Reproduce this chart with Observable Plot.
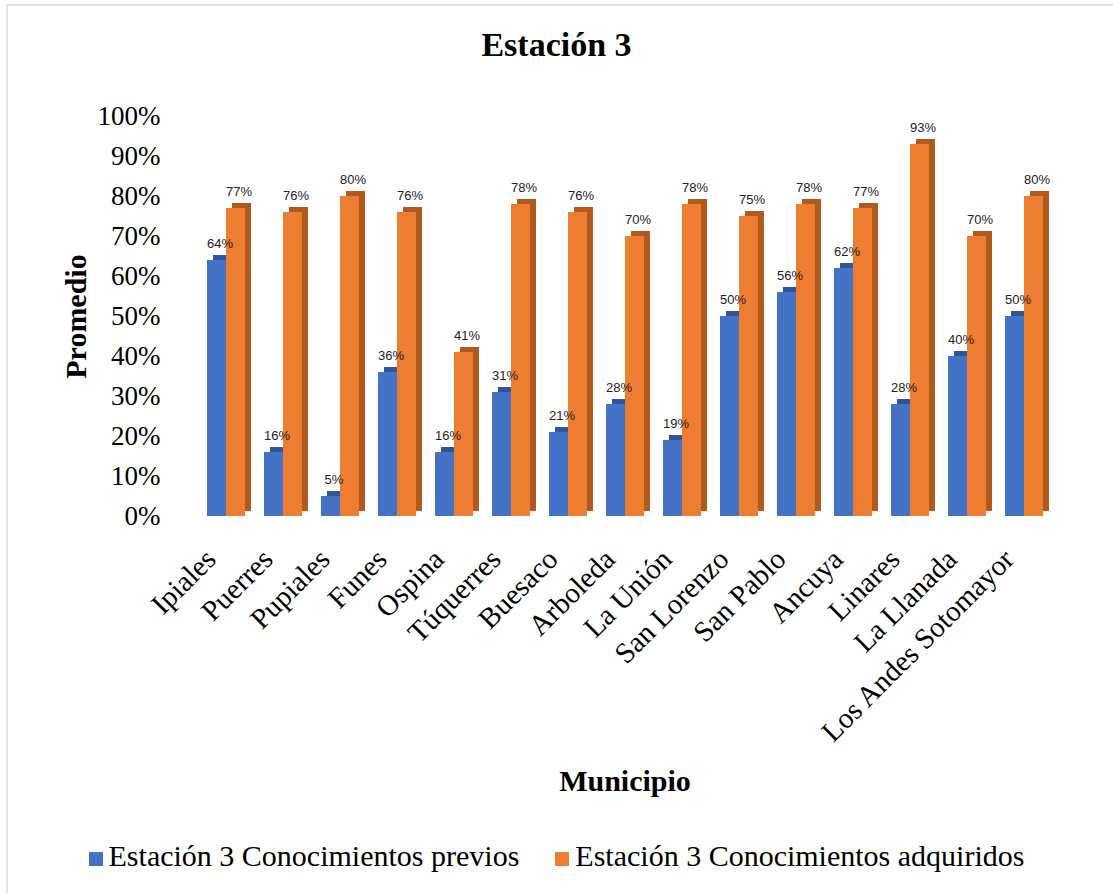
<!DOCTYPE html>
<html>
<head>
<meta charset="utf-8">
<script src="https://cdn.jsdelivr.net/npm/d3@7"></script>
<script src="https://cdn.jsdelivr.net/npm/@observablehq/plot@0.6"></script>
<style>
  html, body { margin: 0; padding: 0; background: #fff; }
  #page { position: relative; width: 1113px; height: 893px; overflow: hidden; font-family: "Liberation Serif", "Times New Roman", serif; color: #000; }
  #frame { position: absolute; left: 6px; top: 4px; width: 1200px; height: 1000px; border-left: 2px solid #e2e2e2; border-top: 2px solid #e2e2e2; }
  #title { position: absolute; left: 0; top: 0; width: 1113px; height: 80px; text-align: center; font-weight: bold; font-size: 34px; line-height: 90px; }
  #chart { position: absolute; left: 0; top: 80px; }
  #legend { position: absolute; left: 0; top: 838px; width: 1113px; display: flex; justify-content: center; gap: 36px; font-size: 30px; line-height: 36px; }
  #legend .item { display: flex; align-items: center; }
  #legend .sw { width: 14px; height: 14px; margin-right: 6px; margin-top: 6px; }
  #chart g[aria-label="y-axis tick label"] { font-size: 27px; }
  #chart g[aria-label="fx-axis tick label"] { font-size: 29px; }
  #chart g[aria-label="y-axis label"], #chart g[aria-label="fx-axis label"] { font-size: 30px; font-weight: bold; }
</style>
</head>
<body>
<div id="page">
  <div id="frame"></div>
  <div id="title">Estación 3</div>
  <div id="chart"></div>
  <div id="legend"></div>
</div>
<script>
// Municipalities and the two averages for each one (percent)
const municipios = ["Ipiales", "Puerres", "Pupiales", "Funes", "Ospina", "Túquerres", "Buesaco", "Arboleda", "La Unión", "San Lorenzo", "San Pablo", "Ancuya", "Linares", "La Llanada", "Los Andes Sotomayor"];
const previos = [64, 16, 5, 36, 16, 31, 21, 28, 19, 50, 56, 62, 28, 40, 50];
const adquiridos = [77, 76, 80, 76, 41, 78, 76, 70, 78, 75, 78, 77, 93, 70, 80];
const series = ["Estación 3 Conocimientos previos", "Estación 3 Conocimientos adquiridos"];
const yTicks = [0, 10, 20, 30, 40, 50, 60, 70, 80, 90, 100];

const colores = ["#4472C4", "#ED7D31"];
const sombras = ["#2F5597", "#B05A1E"];

const rows = municipios.flatMap((m, i) => [
  {municipio: m, serie: series[0], valor: previos[i]},
  {municipio: m, serie: series[1], valor: adquiridos[i]}
]);

// darker copy of each bar, offset up and right, gives the bars their depth
const depth = series.map((s, i) =>
  Plot.barY(rows.filter(d => d.serie === s), {fx: "municipio", x: "serie", y: "valor", fill: sombras[i], dx: 6, dy: -5})
);

const chart = Plot.plot({
  width: 1113,
  height: 730,
  marginTop: 36,
  marginBottom: 294,
  marginLeft: 186,
  marginRight: 50,
  style: {fontFamily: "'Liberation Serif', 'Times New Roman', serif", fontSize: "25px", color: "#000", background: "transparent", overflow: "visible"},
  fx: {domain: municipios, paddingInner: 0.32, paddingOuter: 0.32},
  x: {domain: series, padding: 0, axis: null},
  y: {domain: [0, 100]},
  color: {domain: series, range: colores},
  marks: [
    Plot.axisY({ticks: yTicks, tickFormat: d => d + "%", tickSize: 0, tickPadding: 46, label: "Promedio", labelAnchor: "center", labelOffset: 142, labelArrow: "none"}),
    Plot.axisFx({anchor: "bottom", tickRotate: -45, tickSize: 0, tickPadding: 38, dx: -15, label: "Municipio", labelAnchor: "center", labelOffset: 274, labelArrow: "none"}),
    ...depth,
    Plot.barY(rows, {fx: "municipio", x: "serie", y: "valor", fill: "serie"}),
    Plot.text(rows, {fx: "municipio", x: "serie", y: "valor", text: d => d.valor + "%", dy: -13, dx: 3, lineAnchor: "bottom", fontSize: 13, fontFamily: "'Liberation Sans Narrow', 'Liberation Sans', sans-serif", fill: "#222"})
  ]
});
document.getElementById("chart").appendChild(chart);

// legend below the chart
const legend = document.getElementById("legend");
series.forEach((s, i) => {
  const item = document.createElement("div");
  item.className = "item";
  const sw = document.createElement("span");
  sw.className = "sw";
  sw.style.background = colores[i];
  const label = document.createElement("span");
  label.textContent = s;
  item.append(sw, label);
  legend.append(item);
});
</script>
</body>
</html>
